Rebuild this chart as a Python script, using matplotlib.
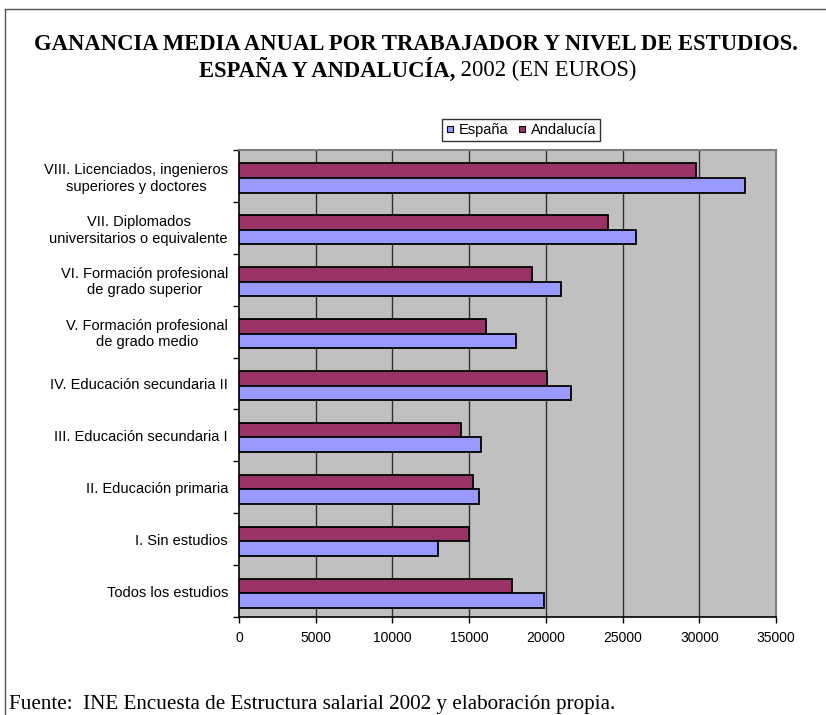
import matplotlib
matplotlib.use('Agg')
import matplotlib.pyplot as plt
from matplotlib.lines import Line2D
import numpy as np

# Niveles de estudios (de arriba a abajo)
categorias = [
    'VIII. Licenciados, ingenieros\nsuperiores y doctores',
    'VII. Diplomados\nuniversitarios o equivalente',
    'VI. Formación profesional\nde grado superior',
    'V. Formación profesional\nde grado medio',
    'IV. Educación secundaria II',
    'III. Educación secundaria I',
    'II. Educación primaria',
    'I. Sin estudios',
    'Todos los estudios',
]
espana = [32980, 25850, 20990, 18030, 21640, 15790, 15670, 12970, 19860]
andalucia = [29780, 24050, 19090, 16130, 20100, 14480, 15250, 15020, 17810]
xticks = [0, 5000, 10000, 15000, 20000, 25000, 30000, 35000]

COL_ESP = '#9999FF'
COL_AND = '#993366'
W, H = 826, 715

fig = plt.figure(figsize=(W / 100, H / 100), dpi=100)
ax = fig.add_axes([239 / W, 1 - 617 / H, (776 - 239) / W, (617 - 150) / H])
ax.set_facecolor('#C0C0C0')

y = np.arange(len(categorias))
h = 0.28
ax.barh(y - h / 2 + 0.04, andalucia, height=h, color=COL_AND, edgecolor='black', linewidth=1.3, zorder=3)
ax.barh(y + h / 2 + 0.04, espana, height=h, color=COL_ESP, edgecolor='black', linewidth=1.3, zorder=3)

ax.set_xlim(0, 35000)
ax.set_ylim(len(categorias) - 0.5, -0.5)
ax.set_xticks(xticks)
ax.set_xticklabels([str(v) for v in xticks], fontsize=10, family='Liberation Sans')
ax.set_yticks(y)
ax.set_yticklabels(categorias, fontsize=10.5, family='Liberation Sans', ha='right', multialignment='center')
ax.set_yticks(np.arange(len(categorias) + 1) - 0.5, minor=True)
ax.tick_params(axis='y', which='major', length=0, pad=8)
ax.tick_params(axis='y', which='minor', length=4, width=1, direction='out', color='black')
ax.tick_params(axis='x', length=4, width=1, direction='out', pad=6)

for v in xticks[1:-1]:
    ax.axvline(v, color='#303030', linewidth=1, zorder=1)

ax.spines['left'].set_color('black')
ax.spines['bottom'].set_color('black')
ax.spines['left'].set_linewidth(1.2)
ax.spines['bottom'].set_linewidth(1.2)
ax.spines['top'].set_color('#808080')
ax.spines['right'].set_color('#808080')
ax.spines['top'].set_linewidth(1.5)
ax.spines['right'].set_linewidth(1.5)

# Leyenda
handles = [
    Line2D([], [], marker='s', linestyle='none', markersize=5, markerfacecolor=COL_ESP, markeredgecolor='black', markeredgewidth=0.8),
    Line2D([], [], marker='s', linestyle='none', markersize=5, markerfacecolor=COL_AND, markeredgecolor='black', markeredgewidth=0.8),
]
leg = fig.legend(handles, ['España', 'Andalucía'], loc='center', bbox_to_anchor=(521 / W, 1 - 130 / H),
                 ncol=2, frameon=True, fancybox=False, prop={'family': 'Liberation Sans', 'size': 10.5},
                 handlelength=0.6, handletextpad=0.3, columnspacing=0.6, borderpad=0.3, borderaxespad=0)
leg.get_frame().set_edgecolor('black')
leg.get_frame().set_linewidth(1)

# Marco de la figura (solo arriba e izquierda visibles)
fig.add_artist(Line2D([5 / W, 1], [1 - 9 / H, 1 - 9 / H], color='#555555', linewidth=1))
fig.add_artist(Line2D([5 / W, 5 / W], [1 - 9 / H, 0], color='#555555', linewidth=1))

# Titulo
fig.text(416 / W, 1 - 45 / H, 'GANANCIA MEDIA ANUAL POR TRABAJADOR Y NIVEL DE ESTUDIOS.',
         ha='center', va='center', fontsize=16.3, fontweight='bold', family='Liberation Serif')
t1 = fig.text(0, 1 - 70 / H, 'ESPAÑA Y ANDALUCÍA,', ha='left', va='center', fontsize=16.3,
              fontweight='bold', family='Liberation Serif')
t2 = fig.text(0, 1 - 70 / H, ' 2002 (EN EUROS)', ha='left', va='center', fontsize=16.3,
              family='Liberation Serif')
fig.canvas.draw()
r = fig.canvas.get_renderer()
w1 = t1.get_window_extent(r).width
w2 = t2.get_window_extent(r).width
x0 = 417.5 - (w1 + w2) / 2
t1.set_x(x0 / W)
t2.set_x((x0 + w1) / W)

fig.text(9 / W, 1 - 704 / H, 'Fuente:  INE Encuesta de Estructura salarial 2002 y elaboración propia.',
         ha='left', va='center', fontsize=15.2, family='Liberation Serif')

fig.savefig('out.png', dpi=100)
